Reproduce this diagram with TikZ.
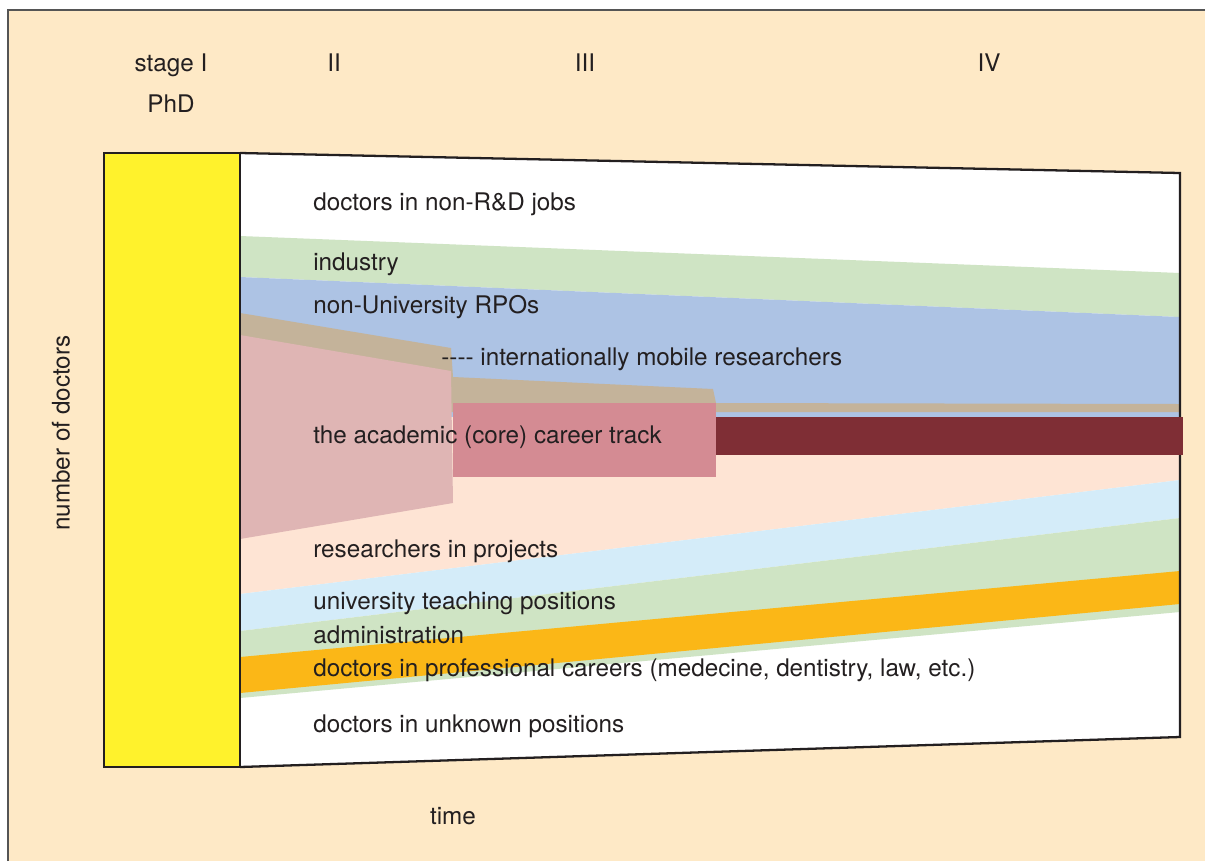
\documentclass[tikz,border=0pt]{standalone}
\usepackage{fontspec}
\setmainfont{TeX Gyre Heros}
\usepackage{xcolor}
\usepackage{tikz}
\usetikzlibrary{positioning}
\definecolor{cBack}{HTML}{FEE9C6}
\definecolor{cEdge}{HTML}{555555}
\definecolor{cInk}{HTML}{231F20}
\definecolor{cPhd}{HTML}{FFF22C}
\definecolor{cGreen}{HTML}{CFE4C4}
\definecolor{cBlue}{HTML}{ADC3E4}
\definecolor{cTan}{HTML}{C4B39A}
\definecolor{cRose}{HTML}{DFB5B4}
\definecolor{cPink}{HTML}{D48B93}
\definecolor{cWine}{HTML}{7F2E35}
\definecolor{cPeach}{HTML}{FEE4D4}
\definecolor{cSky}{HTML}{D4ECF9}
\definecolor{cOrange}{HTML}{FBB717}
\tikzset{
  frame/.style = {draw=cInk, line width=1.3pt, line join=miter},
  lbl/.style   = {font=\fontsize{13.8}{16}\selectfont, text=cInk,
                  anchor=base west, inner sep=0pt},
  stagelbl/.style = {lbl, anchor=base},
}

\begin{document}
\begin{tikzpicture}[x=0.2mm, y=-0.2mm]
  \useasboundingbox (0,0) rectangle (1205,861);
  % ---- panel ----
  \fill[cBack] (8,10) rectangle (1205,861);
  \draw[cEdge, line width=0.6pt] (8,861) -- (8,10) -- (1205,10);
  \fill[white] (240,153) -- (1180,173) -- (1180,737) -- (240,767) -- cycle;
  % ---- upper bands ----
  \fill[cGreen] (240,236) -- (1180,273) -- (1180,317) -- (240,277) -- cycle;
  \fill[cBlue] (240,277) -- (1180,317) -- (1180,417) -- (240,417) -- cycle;
  \fill[cPeach] (240,417) -- (1180,417) -- (1180,480) -- (240,594) -- cycle;
  \fill[cTan] (240,313) -- (451,348) -- (453,377) -- (713,389) -- (716,403)
    -- (1180,404) -- (1180,412) -- (240,412) -- cycle;
  \fill[cRose] (240,335) -- (451,371) -- (453,503) -- (240,539) -- cycle;
  \fill[cPink] (453,403) rectangle (716,477);
  % ---- lower bands ----
  \fill[cSky] (240,594) -- (1180,480) -- (1180,518) -- (240,631) -- cycle;
  \fill[cGreen] (240,631) -- (1180,518) -- (1180,612) -- (240,698) -- cycle;
  \fill[cOrange] (240,657) -- (1180,571) -- (1180,604) -- (240,693) -- cycle;
  % ---- frames ----
  \draw[frame] (240,153) -- (1180,173) -- (1180,737) -- (240,767);
  \draw[frame, fill=cPhd] (104,153) rectangle (240,767);
  \fill[cWine] (716,417) rectangle (1183,455);
  % ---- stages and axes ----
  \node[stagelbl] (stI) at (171,71) {stage I};
  \node[stagelbl] (phd) at (171,112) {PhD};
  \node[stagelbl] (stII) at (334,71) {II};
  \node[stagelbl] (stIII) at (585,71) {III};
  \node[stagelbl] (stIV) at (989,71) {IV};
  \node[stagelbl] (time) at (453,824) {time};
  \node[lbl, anchor=center, rotate=90] (ndoc) at (61,433) {number of doctors};
  % ---- band labels ----
  \node[lbl] (nonrd) at (313,210) {doctors in non-R\&D jobs};
  \node[lbl] (ind) at (313,270) {industry};
  \node[lbl] (rpo) at (313,313) {non-University RPOs};
  \node[lbl] (mob) at (441,365)
    {\mbox{-}\mbox{-}\mbox{-}\mbox{-} internationally mobile researchers};
  \node[lbl] (acad) at (313,443) {the academic (core) career track};
  \node[lbl] (proj) at (313,557) {researchers in projects};
  \node[lbl] (teach) at (313,609) {university teaching positions};
  \node[lbl] (adm) at (313,643) {administration};
  \node[lbl] (prof) at (313,676)
    {doctors in professional careers (medecine, dentistry, law, etc.)};
  \node[lbl] (unk) at (313,732) {doctors in unknown positions};
\end{tikzpicture}
\end{document}
